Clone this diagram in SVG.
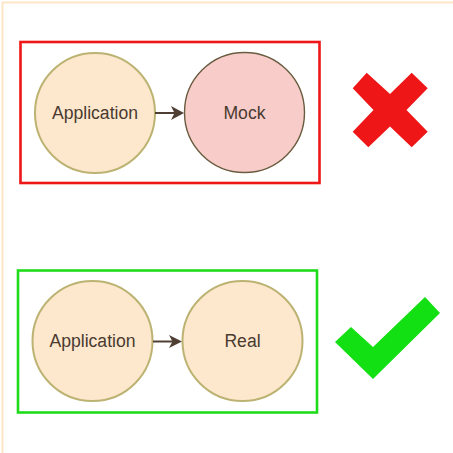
<svg xmlns="http://www.w3.org/2000/svg" width="453" height="453" viewBox="0 0 453 453">
<style>
  .node { fill: #fde8cd; stroke: #bcb373; stroke-width: 2; }
  .mock { fill: #f8cdc9; stroke: #6a5c40; stroke-width: 1.4; }
  .lbl { font-family: "Liberation Sans", Arial, sans-serif; font-size: 17.6px; fill: #4a3a30; text-anchor: middle; }
  .edge { stroke: #4e3e33; stroke-width: 2; fill: none; }
  .head { fill: #4e3e33; }
</style>
<rect x="2.5" y="2.5" width="460" height="460" fill="#ffffff" stroke="#fde6c6" stroke-width="2"/>
<g id="bad-frame">
  <rect x="20.5" y="42" width="299" height="141" fill="none" stroke="#ee1616" stroke-width="2.6"/>
</g>
<g id="good-frame">
  <rect x="18" y="270.5" width="299" height="142" fill="none" stroke="#1fdc1a" stroke-width="2.6"/>
</g>
<g id="app1">
  <circle class="node" cx="95" cy="113" r="60"/>
  <text class="lbl" x="95" y="119">Application</text>
</g>
<g id="mock">
  <circle class="mock" cx="244.5" cy="112.5" r="60"/>
  <text class="lbl" x="244.5" y="119">Mock</text>
</g>
<g id="app2">
  <circle class="node" cx="92.5" cy="341" r="60"/>
  <text class="lbl" x="92.5" y="347">Application</text>
</g>
<g id="real">
  <circle class="node" cx="242.5" cy="341" r="60"/>
  <text class="lbl" x="242.5" y="347">Real</text>
</g>
<g id="connectors">
  <line class="edge" x1="155" y1="113" x2="175" y2="113"/>
  <path class="head" d="M184,113 L171,106 L174.5,113 L171,120 Z"/>
  <line class="edge" x1="153" y1="341.5" x2="173" y2="341.5" stroke-width="1.6"/>
  <path class="head" d="M182,341.5 L169,335 L172.5,341.5 L169,348 Z"/>
</g>
<g id="cross">
  <polygon fill="#ee1616" points="352.7,88.3 366.7,72.7 390,94 411.7,72.7 427.7,88.3 406.5,110 427.7,131.7 411.7,147.3 390,126.5 368.3,147.3 352.7,131.7 373.5,110"/>
</g>
<g id="check">
  <polygon fill="#13e013" points="335,342 351,327 373,347 425,297 440,313 373,379"/>
</g>
</svg>
